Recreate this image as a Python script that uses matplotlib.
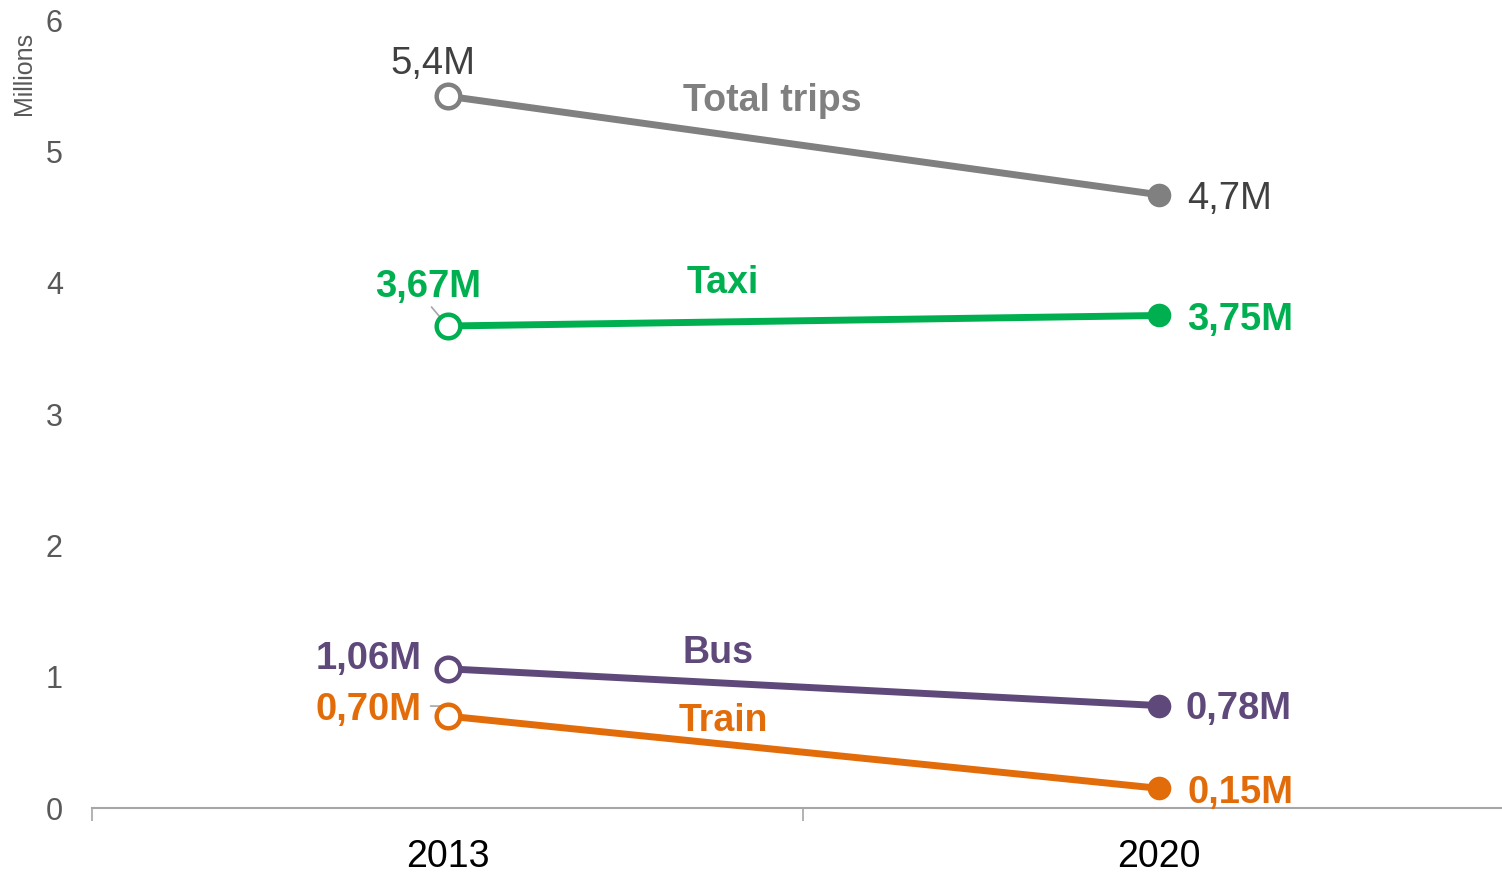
import matplotlib.pyplot as plt

plt.rcParams['font.family'] = ['Liberation Sans', 'DejaVu Sans']

years = ['2013', '2020']
total = [5.42, 4.67]
taxi = [3.67, 3.75]
bus = [1.06, 0.78]
train = [0.70, 0.15]

GREY = '#808080'
GREEN = '#00B050'
PURPLE = '#5F497A'
ORANGE = '#E36C0A'

fig = plt.figure(figsize=(15.02, 8.72), dpi=100)
ax = fig.add_axes([92 / 1502, 1 - 808 / 872, 1 - 92 / 1502, (808 - 20) / 872])


def draw_series(vals, color):
    x = range(len(vals))
    ax.plot(x, vals, color=color, lw=5, solid_capstyle='round', zorder=2)
    ax.plot(0, vals[0], 'o', ms=17, mfc='white', mec=color, mew=3.2, zorder=3)
    ax.plot(1, vals[1], 'o', ms=17, mfc=color, mec=color, mew=0, zorder=3)


draw_series(total, GREY)
draw_series(taxi, GREEN)
draw_series(bus, PURPLE)
draw_series(train, ORANGE)


def fmt(v, nd):
    return ('{:.%df}M' % nd).format(v).replace('.', ',')


def label(x, y, text, color, dx, dy, ha, bold=True):
    ax.annotate(text, (x, y), xytext=(dx, dy - 3), textcoords='offset pixels',
                ha=ha, va='center', color=color, fontsize=27.5,
                fontweight='bold' if bold else 'normal', zorder=4)


# value labels at each end
label(0, total[0], fmt(total[0], 1), '#404040', -15, 35, 'center', bold=False)
label(1, total[1], fmt(total[1], 1), '#404040', 29, -1, 'left', bold=False)
label(0, taxi[0], fmt(taxi[0], 2), GREEN, -19, 42, 'center')
label(1, taxi[1], fmt(taxi[1], 2), GREEN, 29, -1, 'left')
label(0, bus[0], fmt(bus[0], 2), PURPLE, -26, 13, 'right')
label(1, bus[1], fmt(bus[1], 2), PURPLE, 27, 0, 'left')
label(0, train[0], fmt(train[0], 2), ORANGE, -26, 9, 'right')
label(1, train[1], fmt(train[1], 2), ORANGE, 29, -2, 'left')

# small leader lines
ax.annotate('', (0, taxi[0]), xytext=(-16, 19), textcoords='offset pixels',
            arrowprops=dict(arrowstyle='-', color='#A6A6A6', lw=1.2,
                            shrinkA=0, shrinkB=0), zorder=1)
ax.annotate('', (0, train[0]), xytext=(-17, 10), textcoords='offset pixels',
            arrowprops=dict(arrowstyle='-', color='#A6A6A6', lw=1.2,
                            connectionstyle='angle,angleA=0,angleB=60',
                            shrinkA=0, shrinkB=0), zorder=1)

# series names
name_kw = dict(ha='center', va='center', fontsize=27, fontweight='bold')
ax.text(0.456, 5.38, 'Total trips', color=GREY, **name_kw)
ax.text(0.387, 4.00, 'Taxi', color=GREEN, **name_kw)
ax.text(0.380, 1.18, 'Bus', color=PURPLE, **name_kw)
ax.text(0.388, 0.66, 'Train', color=ORANGE, **name_kw)

ax.set_xticks([0, 1])
ax.set_xticklabels(years, fontsize=27, color='black')
ax.set_xticks([-0.5, 0.5, 1.5], minor=True)
ax.set_xlim(-0.5, 1.483)
ax.set_ylim(0, 6)
ax.tick_params(axis='x', which='major', length=0, pad=22)
ax.tick_params(axis='x', which='minor', length=9, color='#A6A6A6', width=1.2)
ax.set_yticks(range(7))
ax.tick_params(axis='y', length=0, labelsize=22, labelcolor='#595959', pad=21)

for s in ['top', 'right', 'left']:
    ax.spines[s].set_visible(False)
ax.spines['bottom'].set_color('#A6A6A6')
ax.spines['bottom'].set_linewidth(1.5)

fig.text(24 / 1502, 1 - 73 / 872, 'Millions', rotation=90, ha='center',
         va='center', fontsize=18, color='#595959')

fig.savefig('out.png', dpi=100)
